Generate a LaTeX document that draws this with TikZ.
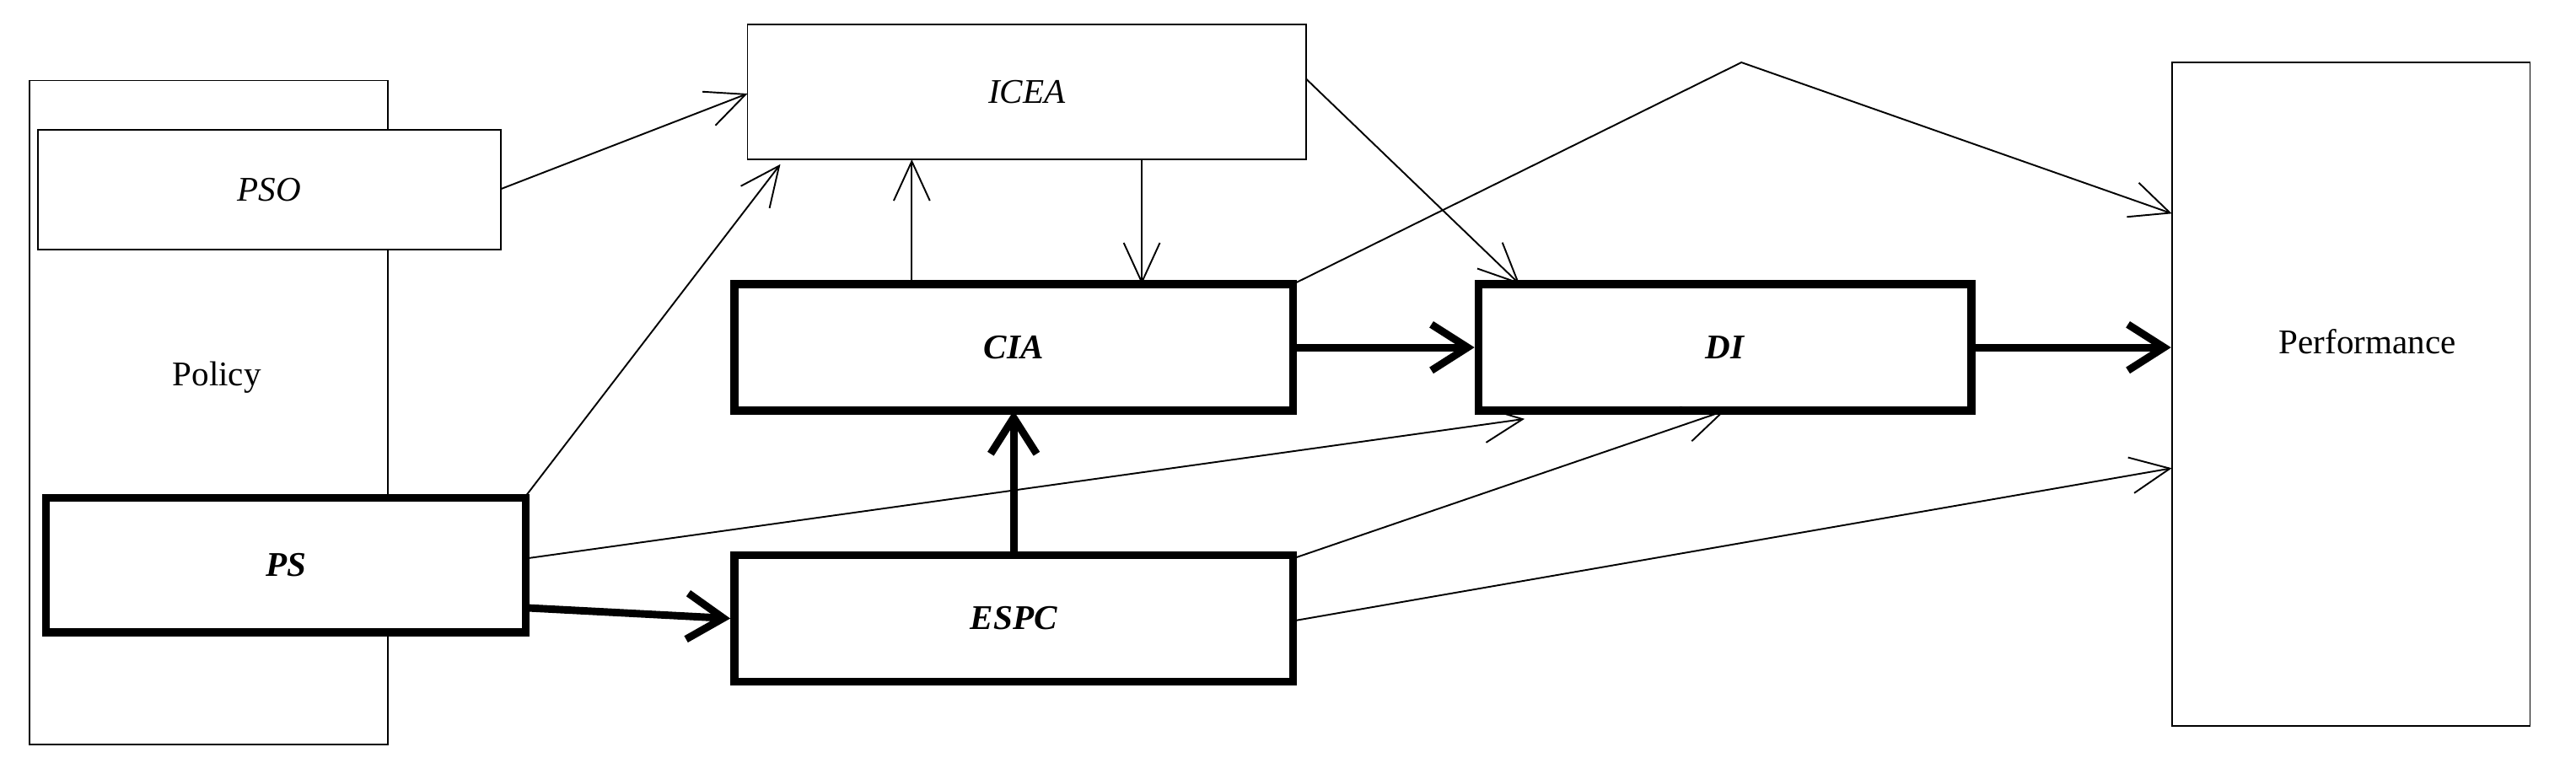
\documentclass[tikz,border=0pt]{standalone}
\usepackage{fontspec}
\setmainfont{Liberation Serif}
\usetikzlibrary{arrows.meta}
\begin{document}
\begin{tikzpicture}[x=0.5mm,y=-0.5mm,
  box/.style={draw,line width=1.4pt,fill=white,inner sep=0pt,font=\fontsize{30}{36}\selectfont},
  tbox/.style={box,line width=7pt,font=\fontsize{30}{36}\selectfont\bfseries\itshape},
  thin/.style={line width=1.4pt,-{Straight Barb[length=12mm,width=11mm,line width=1.4pt]}},
  thick/.style={line width=6.5pt,-{Straight Barb[length=11mm,width=14mm,line width=6.5pt]}}]
\useasboundingbox (0,0) rectangle (1568,471);
\node[box,minimum width=109mm,minimum height=202mm] (pol) at (127,251) {};
\node[font=\fontsize{30}{36}\selectfont] (poll) at (132,230) {Policy};
\node[box,minimum width=141mm,minimum height=36.5mm,font=\fontsize{30}{36}\selectfont\itshape] (pso) at (164,115.5) {PSO};
\node[tbox,minimum width=146mm,minimum height=41mm] (ps) at (174,344) {PS};
\node[box,minimum width=170mm,minimum height=41mm,font=\fontsize{30}{36}\selectfont\itshape] (icea) at (625,56) {ICEA};
\node[tbox,minimum width=170mm,minimum height=38.5mm] (cia) at (617,211.5) {CIA};
\node[tbox,minimum width=150mm,minimum height=38.5mm] (di) at (1050,211.5) {DI};
\node[tbox,minimum width=170mm,minimum height=38.5mm] (espc) at (617,376.5) {ESPC};
\node[box,minimum width=109mm,minimum height=202mm] (perf) at (1431,240) {};
\node[font=\fontsize{30}{36}\selectfont] (perfl) at (1441,208) {Performance};
\coordinate (peak) at (1060,38);
\draw[thin] (305,115) -- (455,57);
\draw[thin] (320,302) -- (475,100);
\draw[thin] (555,173) -- (555,97);
\draw[thin] (695,97) -- (695,173);
\draw[thin] (795,48) -- (925,173);
\draw[thin] (787,173) -- (peak) -- (1322,130);
\draw[thin] (320,340) -- (928,255);
\draw[thin] (787,340) -- (1050,250);
\draw[thin] (787,378) -- (1322,285);
\draw[thick] (cia.east) -- (di.west);
\draw[thick] (di.east) -- (perf.west |- di.east);
\draw[thick] (320,370) -- (espc.west);
\draw[thick] (617,338) -- (617,250);
\end{tikzpicture}
\end{document}
